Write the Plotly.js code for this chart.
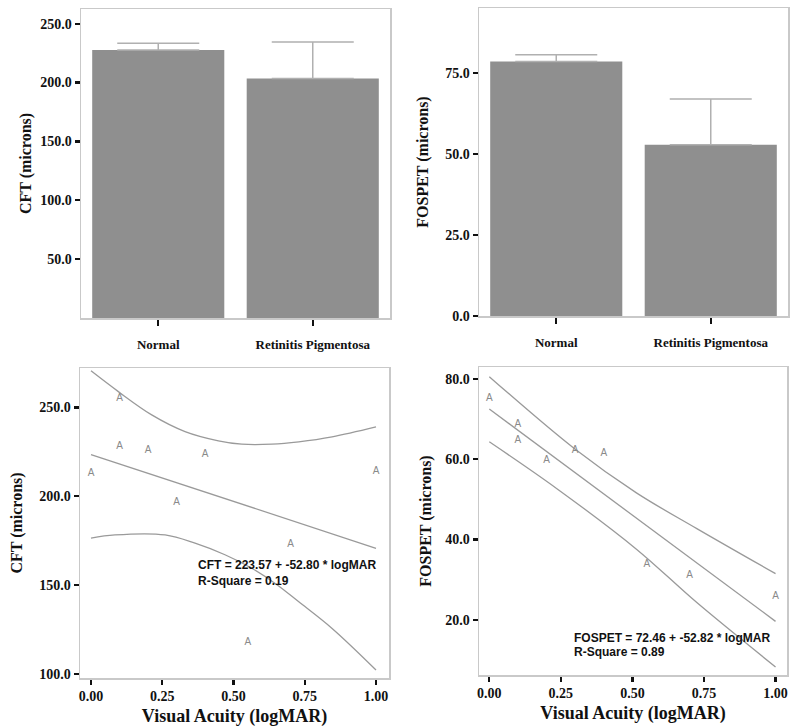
<!DOCTYPE html>
<html>
<head>
<meta charset="utf-8">
<script src="https://cdn.plot.ly/plotly-3.0.1.min.js"></script>
<style>
  html, body { margin: 0; padding: 0; background: #ffffff; }
  #chart { width: 800px; height: 728px; }
</style>
</head>
<body>
<div id="chart"></div>
<script>
// ---- Data ----
const barCategories = ['Normal', 'Retinitis Pigmentosa'];
const cftMeans = [227.7, 203.4];
const cftErrPlus = [5.8, 31.1];
const fospetMeans = [78.5, 52.8];
const fospetErrPlus = [2.1, 14.1];

const acuity = [0, 0.1, 0.1, 0.2, 0.3, 0.4, 0.55, 0.7, 1.0];
const cftPoints = [212.8, 255.1, 227.9, 226.0, 196.5, 223.5, 117.5, 172.9, 214.2];
const fospetPoints = [75.1, 68.7, 64.6, 59.6, 62.2, 61.3, 33.9, 31.1, 25.7];

const fitX = [0, 1];
const cftFit = [223.57, 170.77];
const fospetFit = [72.46, 19.64];

const cftUpperX = [0, 0.096, 0.213, 0.33, 0.447, 0.529, 0.635, 0.729, 0.846, 1.0];
const cftUpperY = [270.7, 259.0, 245.9, 236.5, 231.3, 229.4, 229.4, 230.7, 233.5, 239.1];
const cftLowerX = [0, 0.084, 0.26, 0.365, 0.47, 0.564, 0.65, 0.729, 0.846, 1.0];
const cftLowerY = [176.5, 178.3, 178.3, 173.6, 167.1, 159.5, 150.5, 140.6, 125.6, 102.2];

const fosUpperX = [0, 0.299, 0.514, 0.725, 1.0];
const fosUpperY = [80.5, 62.5, 51.6, 42.7, 31.5];
const fosLowerX = [0, 0.235, 0.514, 0.725, 1.0];
const fosLowerY = [64.3, 52.7, 37.6, 24.3, 8.3];

const cftBarTicks = [50, 100, 150, 200, 250];
const cftBarTickText = ['50.0', '100.0', '150.0', '200.0', '250.0'];
const fosBarTicks = [0, 25, 50, 75];
const fosBarTickText = ['0.0', '25.0', '50.0', '75.0'];
const cftScatTicks = [100, 150, 200, 250];
const cftScatTickText = ['100.0', '150.0', '200.0', '250.0'];
const fosScatTicks = [20, 40, 60, 80];
const fosScatTickText = ['20.0', '40.0', '60.0', '80.0'];
const acuityTicks = [0, 0.25, 0.5, 0.75, 1.0];
const acuityTickText = ['0.00', '0.25', '0.50', '0.75', '1.00'];

const cftEquation = ['CFT = 223.57 + -52.80 * logMAR', 'R-Square = 0.19'];
const fosEquation = ['FOSPET = 72.46 + -52.82 * logMAR', 'R-Square = 0.89'];

// ---- Styles ----
const SERIF = '"Liberation Serif", "Times New Roman", serif';
const SANS = '"Liberation Sans", Arial, sans-serif';
const frameColor = '#c9c9c9';
const barColor = '#8f8f8f';
const errColor = '#b0b0b0';
const curveColor = '#9a9a9a';
const pointColor = '#8a8a8a';

function bandTrace(x, y, xa, ya) {
  return { type: 'scatter', mode: 'lines', x: x, y: y, xaxis: xa, yaxis: ya,
           line: { color: curveColor, width: 1.3, shape: 'spline', smoothing: 1 },
           hoverinfo: 'skip', showlegend: false };
}

const traces = [
  { type: 'bar', x: barCategories, y: cftMeans, xaxis: 'x', yaxis: 'y',
    marker: { color: barColor, line: { width: 0 } },
    error_y: { type: 'data', symmetric: false, array: cftErrPlus, arrayminus: [0, 0],
               color: errColor, thickness: 1.5, width: 41 },
    showlegend: false },
  { type: 'bar', x: barCategories, y: fospetMeans, xaxis: 'x2', yaxis: 'y2',
    marker: { color: barColor, line: { width: 0 } },
    error_y: { type: 'data', symmetric: false, array: fospetErrPlus, arrayminus: [0, 0],
               color: errColor, thickness: 1.5, width: 41 },
    showlegend: false },

  bandTrace(cftUpperX, cftUpperY, 'x3', 'y3'),
  bandTrace(cftLowerX, cftLowerY, 'x3', 'y3'),
  { type: 'scatter', mode: 'lines', x: fitX, y: cftFit, xaxis: 'x3', yaxis: 'y3',
    line: { color: curveColor, width: 1.3 }, showlegend: false },
  { type: 'scatter', mode: 'text', x: acuity, y: cftPoints, xaxis: 'x3', yaxis: 'y3',
    text: acuity.map(() => 'A'), textposition: 'middle center',
    textfont: { family: SANS, size: 10, color: pointColor }, showlegend: false },

  bandTrace(fosUpperX, fosUpperY, 'x4', 'y4'),
  bandTrace(fosLowerX, fosLowerY, 'x4', 'y4'),
  { type: 'scatter', mode: 'lines', x: fitX, y: fospetFit, xaxis: 'x4', yaxis: 'y4',
    line: { color: curveColor, width: 1.3 }, showlegend: false },
  { type: 'scatter', mode: 'text', x: acuity, y: fospetPoints, xaxis: 'x4', yaxis: 'y4',
    text: acuity.map(() => 'A'), textposition: 'middle center',
    textfont: { family: SANS, size: 10, color: pointColor }, showlegend: false }
];

const tickFont = { family: SERIF, size: 14, color: '#111', weight: 'bold' };
const catFont = { family: SERIF, size: 13, color: '#111', weight: 'bold' };
const titleFont = { family: SERIF, size: 16, color: '#111', weight: 'bold' };
const xTitleFont = { family: SERIF, size: 18, color: '#111', weight: 'bold' };
const noteFont = { family: SANS, size: 12, color: '#111', weight: 'bold' };

function baseAxis(extra) {
  return Object.assign({
    showline: true, mirror: true, linecolor: frameColor, linewidth: 1.5,
    ticks: 'outside', ticklen: 5, tickwidth: 2.2, tickcolor: '#111',
    showgrid: false, zeroline: false, fixedrange: true, automargin: false,
    tickfont: tickFont
  }, extra);
}

const layout = {
  width: 800, height: 728,
  margin: { l: 0, r: 0, t: 0, b: 0 },
  paper_bgcolor: '#ffffff', plot_bgcolor: '#ffffff',
  showlegend: false, bargap: 0.145,
  xaxis: baseAxis({ domain: [81/800, 390/800], anchor: 'y', type: 'category', range: [-0.5, 1.5],
    ticklen: 6, ticklabelstandoff: 8, tickfont: catFont }),
  yaxis: baseAxis({ domain: [1 - 318/728, 1 - 9/728], anchor: 'x', range: [0, 262.5],
    tickmode: 'array', tickvals: cftBarTicks, ticktext: cftBarTickText,
    title: { text: 'CFT (microns)', font: titleFont, standoff: 4 } }),
  xaxis2: baseAxis({ domain: [479/800, 788/800], anchor: 'y2', type: 'category', range: [-0.5, 1.5],
    ticklen: 6, ticklabelstandoff: 8, tickfont: catFont }),
  yaxis2: baseAxis({ domain: [1 - 316/728, 1 - 8/728], anchor: 'x2', range: [0, 95],
    tickmode: 'array', tickvals: fosBarTicks, ticktext: fosBarTickText,
    title: { text: 'FOSPET (microns)', font: titleFont, standoff: 12 } }),
  xaxis3: baseAxis({ domain: [80/800, 389/800], anchor: 'y3', range: [-0.0386, 1.0456],
    tickmode: 'array', tickvals: acuityTicks, ticktext: acuityTickText,
    title: { text: 'Visual Acuity (logMAR)', font: xTitleFont, standoff: 6 } }),
  yaxis3: baseAxis({ domain: [1 - 678/728, 1 - 368/728], anchor: 'x3', range: [97.7, 272.3],
    tickmode: 'array', tickvals: cftScatTicks, ticktext: cftScatTickText,
    title: { text: 'CFT (microns)', font: titleFont, standoff: 12 } }),
  xaxis4: baseAxis({ domain: [479/800, 787/800], anchor: 'y4', range: [-0.036, 1.04],
    tickmode: 'array', tickvals: acuityTicks, ticktext: acuityTickText,
    title: { text: 'Visual Acuity (logMAR)', font: xTitleFont, standoff: 6 } }),
  yaxis4: baseAxis({ domain: [1 - 675/728, 1 - 367/728], anchor: 'x4', range: [6.3, 82.9],
    tickmode: 'array', tickvals: fosScatTicks, ticktext: fosScatTickText,
    title: { text: 'FOSPET (microns)', font: titleFont, standoff: 9 } }),
  annotations: [
    { xref: 'x3', yref: 'y3', x: 0.368, y: 161.2, text: cftEquation[0], showarrow: false,
      xanchor: 'left', yanchor: 'middle', font: noteFont },
    { xref: 'x3', yref: 'y3', x: 0.368, y: 152.4, text: cftEquation[1], showarrow: false,
      xanchor: 'left', yanchor: 'middle', font: noteFont },
    { xref: 'x4', yref: 'y4', x: 0.29, y: 15.6, text: fosEquation[0], showarrow: false,
      xanchor: 'left', yanchor: 'middle', font: noteFont },
    { xref: 'x4', yref: 'y4', x: 0.29, y: 12.0, text: fosEquation[1], showarrow: false,
      xanchor: 'left', yanchor: 'middle', font: noteFont }
  ]
};

Plotly.newPlot('chart', traces, layout, { staticPlot: true, displayModeBar: false });
</script>
</body>
</html>
